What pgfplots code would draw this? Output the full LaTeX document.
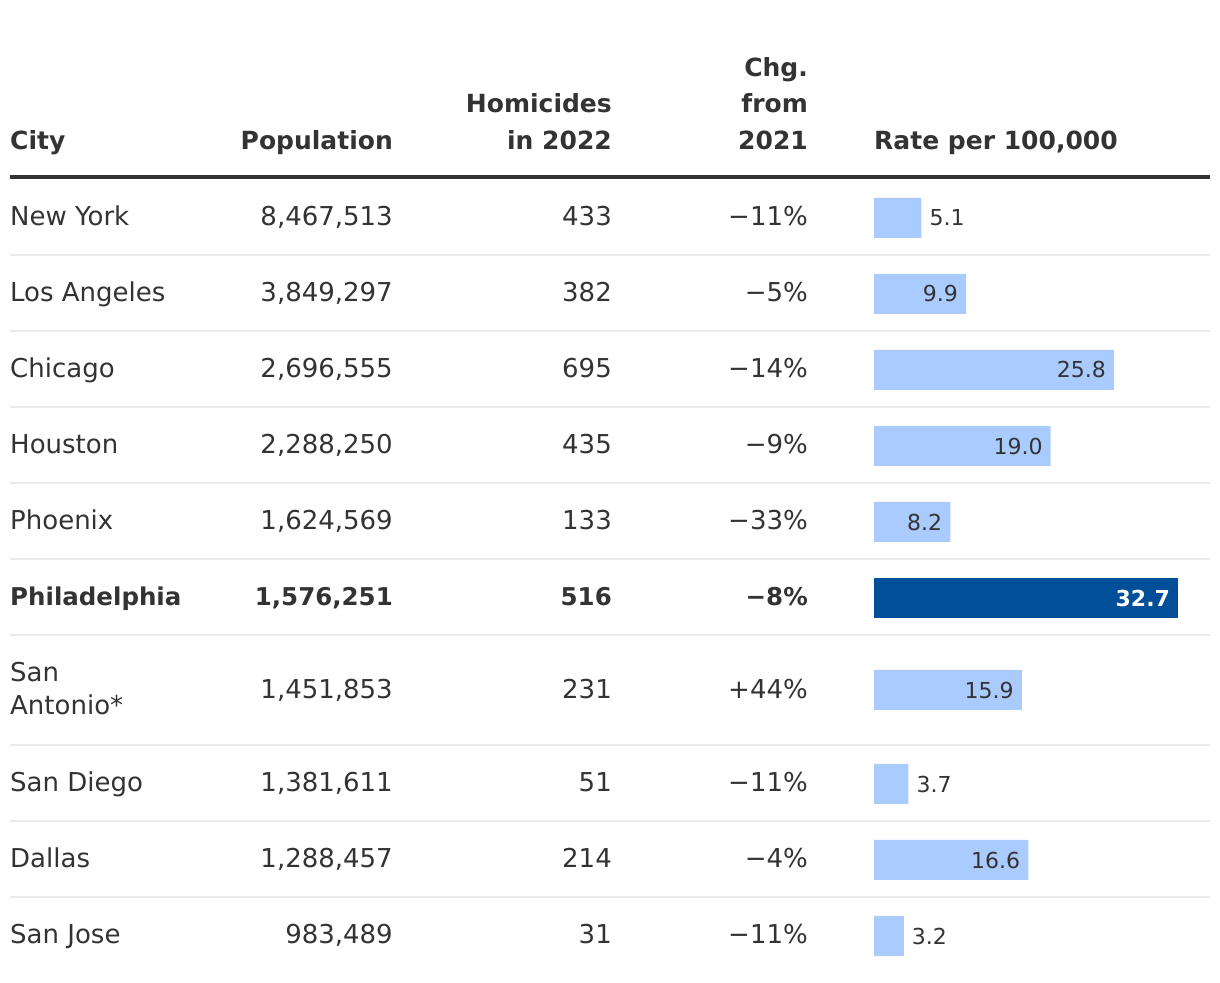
\documentclass[border=0pt]{standalone}
\usepackage{pgfplots}
\pgfplotsset{compat=1.18}
\usepackage{fontspec}
\setmainfont{DejaVu Sans}
\definecolor{txt}{HTML}{333333}
\definecolor{lightbar}{HTML}{A9CBFD}
\definecolor{darkbar}{HTML}{004F98}
\definecolor{sepc}{HTML}{EBEBEB}
\newcommand{\bodyf}{\fontsize{26}{30}\selectfont}
\newcommand{\boldf}{\fontsize{24.5}{30}\selectfont\bfseries}
\newcommand{\headf}{\fontsize{25}{30}\selectfont\bfseries}
\newcommand{\labf}{\fontsize{22}{26}\selectfont}
\begin{document}
\begin{tikzpicture}
% ---------- table text and rules (pixel coordinates) ----------
\begin{axis}[at={(0pt,0pt)}, anchor=south west, scale only axis,
  width=1220pt, height=982pt, xmin=0, xmax=1220, ymin=-982, ymax=0,
  axis lines=none, clip=false]
\path (axis cs:0,-982) rectangle (axis cs:1220,0);
% headers
\begin{scope}[every node/.style={text=txt, font=\headf, inner sep=0pt}]
\node[anchor=base west] at (axis cs:10,-150) {City};
\node[anchor=base east] at (axis cs:393,-150) {Population};
\node[anchor=base east] at (axis cs:612,-113) {Homicides};
\node[anchor=base east] at (axis cs:612,-150) {in 2022};
\node[anchor=base east] at (axis cs:808,-77) {Chg.};
\node[anchor=base east] at (axis cs:808,-113) {from};
\node[anchor=base east] at (axis cs:808,-150) {2021};
\node[anchor=base west] at (axis cs:874,-150) {Rate per 100,000};
\end{scope}
\draw[txt, line width=4pt] (axis cs:10,-177) -- (axis cs:1210,-177);
% separators
\foreach \yy in {255,331,407,483,559,635,745,821,897}{
  \edef\tmp{\noexpand\draw[sepc, line width=2pt] (axis cs:10,-\yy) -- (axis cs:1210,-\yy);}\tmp
}
% rows
\begin{scope}[every node/.style={text=txt, font=\bodyf, inner sep=0pt}]
\node[anchor=base west] at (axis cs:10,-226) {New York};
\node[anchor=base east] at (axis cs:393,-226) {8,467,513};
\node[anchor=base east] at (axis cs:612,-226) {433};
\node[anchor=base east] at (axis cs:808,-226) {−11\%};

\node[anchor=base west] at (axis cs:10,-302) {Los Angeles};
\node[anchor=base east] at (axis cs:393,-302) {3,849,297};
\node[anchor=base east] at (axis cs:612,-302) {382};
\node[anchor=base east] at (axis cs:808,-302) {−5\%};

\node[anchor=base west] at (axis cs:10,-378) {Chicago};
\node[anchor=base east] at (axis cs:393,-378) {2,696,555};
\node[anchor=base east] at (axis cs:612,-378) {695};
\node[anchor=base east] at (axis cs:808,-378) {−14\%};

\node[anchor=base west] at (axis cs:10,-454) {Houston};
\node[anchor=base east] at (axis cs:393,-454) {2,288,250};
\node[anchor=base east] at (axis cs:612,-454) {435};
\node[anchor=base east] at (axis cs:808,-454) {−9\%};

\node[anchor=base west] at (axis cs:10,-530) {Phoenix};
\node[anchor=base east] at (axis cs:393,-530) {1,624,569};
\node[anchor=base east] at (axis cs:612,-530) {133};
\node[anchor=base east] at (axis cs:808,-530) {−33\%};

\node[anchor=base west, font=\boldf] at (axis cs:10,-606) {Philadelphia};
\node[anchor=base east, font=\boldf] at (axis cs:393,-606) {1,576,251};
\node[anchor=base east, font=\boldf] at (axis cs:612,-606) {516};
\node[anchor=base east, font=\boldf] at (axis cs:808,-606) {−8\%};

\node[anchor=base west] at (axis cs:10,-682) {San};
\node[anchor=base west] at (axis cs:10,-715) {Antonio*};
\node[anchor=base east] at (axis cs:393,-699) {1,451,853};
\node[anchor=base east] at (axis cs:612,-699) {231};
\node[anchor=base east] at (axis cs:808,-699) {+44\%};

\node[anchor=base west] at (axis cs:10,-792) {San Diego};
\node[anchor=base east] at (axis cs:393,-792) {1,381,611};
\node[anchor=base east] at (axis cs:612,-792) {51};
\node[anchor=base east] at (axis cs:808,-792) {−11\%};

\node[anchor=base west] at (axis cs:10,-868) {Dallas};
\node[anchor=base east] at (axis cs:393,-868) {1,288,457};
\node[anchor=base east] at (axis cs:612,-868) {214};
\node[anchor=base east] at (axis cs:808,-868) {−4\%};

\node[anchor=base west] at (axis cs:10,-944) {San Jose};
\node[anchor=base east] at (axis cs:393,-944) {983,489};
\node[anchor=base east] at (axis cs:612,-944) {31};
\node[anchor=base east] at (axis cs:808,-944) {−11\%};
\end{scope}
\end{axis}
% ---------- bars (rate units) ----------
\begin{axis}[at={(874pt,0pt)}, anchor=south west, scale only axis,
  width=346pt, height=982pt, xmin=0, xmax=37.2043, ymin=-982, ymax=0,
  axis lines=none, clip=false, xbar, bar width=40, bar shift=0pt,
  point meta=x, /pgf/number format/assume math mode=true,
  nodes near coords={\pgfmathprintnumber[fixed,fixed zerofill,precision=1]{\pgfplotspointmeta}}]
% labels inside the bar
\addplot[fill=lightbar, draw=none,
  every node near coord/.append style={anchor=east, xshift=-8pt, text=txt, font=\labf, inner sep=0pt}]
  coordinates {(9.9,-294) (25.8,-370) (19.0,-446) (8.2,-522) (15.9,-690) (16.6,-860)};
% labels outside the bar
\addplot[fill=lightbar, draw=none,
  every node near coord/.append style={anchor=west, xshift=8pt, text=txt, font=\labf, inner sep=0pt}]
  coordinates {(5.1,-218) (3.7,-784) (3.2,-936)};
% highlighted city
\addplot[fill=darkbar, draw=none,
  every node near coord/.append style={anchor=east, xshift=-8pt, text=white, font=\labf\bfseries, inner sep=0pt}]
  coordinates {(32.7,-598)};
\end{axis}
\end{tikzpicture}
\end{document}
